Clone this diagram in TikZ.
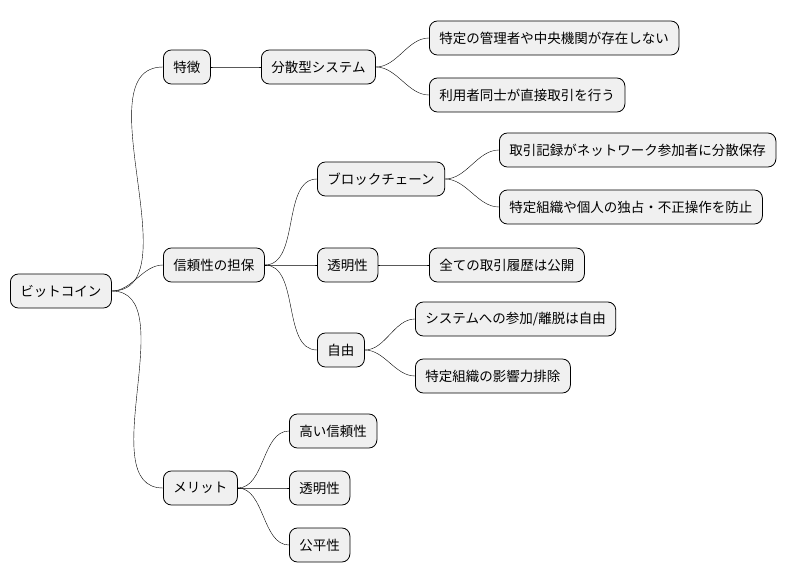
\documentclass[tikz,border=0pt]{standalone}
\usepackage{fontspec}
\setmainfont{Noto Sans CJK JP}
\begin{document}
\begin{tikzpicture}[
        x=1pt, y=-1pt,
        topic/.style={draw, rounded corners=8pt, fill=black!6, minimum height=34pt,
            inner xsep=10pt, anchor=west, font=\fontsize{13.5}{15}\selectfont, line width=0.8pt},
        branch/.style={draw, line width=0.6pt, out=0, in=180, looseness=0.9},
    ]
    \useasboundingbox (0,0) rectangle (796,583);

    % ルート
    \node[topic] (root) at (10,291) {ビットコイン};

    % 第1階層
    \node[topic] (feat) at (163,67) {特徴};
    \node[topic] (trust) at (163,265) {信頼性の担保};
    \node[topic] (merit) at (163,488) {メリット};

    % 特徴
    \node[topic] (dist) at (261,67) {分散型システム};
    \node[topic] (noadm) at (429,38) {特定の管理者や中央機関が存在しない};
    \node[topic] (direct) at (429,95) {利用者同士が直接取引を行う};

    % 信頼性の担保
    \node[topic] (chain) at (317,179) {ブロックチェーン};
    \node[topic] (ledger) at (499,150) {取引記録がネットワーク参加者に分散保存};
    \node[topic] (guard) at (499,207) {特定組織や個人の独占・不正操作を防止};
    \node[topic] (transp) at (317,265) {透明性};
    \node[topic] (public) at (429,265) {全ての取引履歴は公開};
    \node[topic] (free) at (317,350) {自由};
    \node[topic] (join) at (415,319) {システムへの参加/離脱は自由};
    \node[topic] (noinf) at (415,376) {特定組織の影響力排除};

    % メリット
    \node[topic] (high) at (289,431) {高い信頼性};
    \node[topic] (transp2) at (289,488) {透明性};
    \node[topic] (fair) at (289,545) {公平性};

    \foreach \p/\c in {root/feat, root/trust, root/merit,
            feat/dist, dist/noadm, dist/direct,
            trust/chain, trust/transp, trust/free,
            chain/ledger, chain/guard, transp/public,
            free/join, free/noinf,
            merit/high, merit/transp2, merit/fair}
        \draw (\p.east) to[branch] (\c.west);
\end{tikzpicture}
\end{document}
